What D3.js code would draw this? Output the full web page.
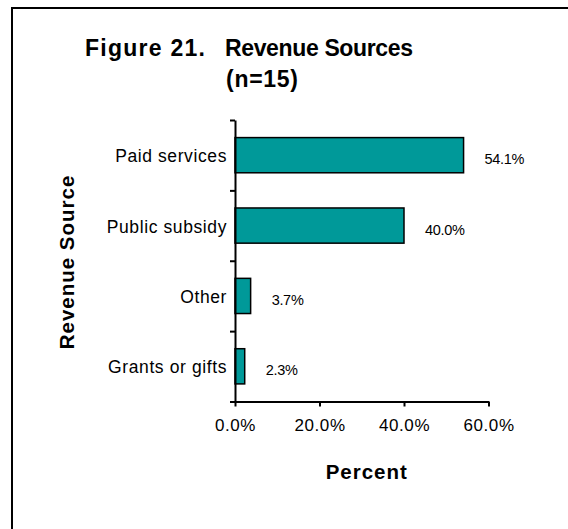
<!DOCTYPE html>
<html>
<head>
<meta charset="utf-8">
<script src="https://cdn.jsdelivr.net/npm/d3@7"></script>
<style>
  html, body { margin: 0; padding: 0; background: #fff; overflow: hidden; }
  svg { display: block; }
  text { font-family: "Liberation Sans", Arial, sans-serif; fill: #000; }
</style>
</head>
<body>
<svg id="chart" width="568" height="529"></svg>
<script>
// Revenue sources, share of total revenue (percent)
const categories = ["Paid services", "Public subsidy", "Other", "Grants or gifts"];
const values = [54.1, 40.0, 3.7, 2.3];
const xTicks = [0, 20, 40, 60];
const titleParts = ["Figure 21.", "Revenue Sources", "(n=15)"];
const xTitle = "Percent";
const yTitle = "Revenue Source";

const svg = d3.select("#chart");

// outer frame (only its top and left edges fall inside the page)
svg.append("rect")
  .attr("x", 12).attr("y", 8)
  .attr("width", 700).attr("height", 700)
  .attr("fill", "none").attr("stroke", "#000").attr("stroke-width", 2);

const plot = { left: 235, right: 488.5, top: 120, bottom: 401.5 };

const x = d3.scaleLinear().domain([0, 60]).range([plot.left, plot.right]);
const y = d3.scaleBand().domain(categories).range([plot.top, plot.bottom]).paddingInner(0.5).paddingOuter(0.25);
const yEdges = d3.scaleLinear().domain([0, categories.length]).range([plot.top, plot.bottom]);

// title: "Figure 21." then "Revenue Sources", with "(n=15)" under the second part
const title = svg.append("text")
  .attr("font-weight", "bold").attr("font-size", 23);
title.append("tspan").attr("x", 85).attr("y", 56)
  .attr("textLength", 120).attr("lengthAdjust", "spacing").text(titleParts[0]);
title.append("tspan").attr("x", 225).attr("y", 56)
  .attr("textLength", 188).attr("lengthAdjust", "spacing").text(titleParts[1]);
title.append("tspan").attr("x", 226).attr("y", 87)
  .attr("textLength", 72).attr("lengthAdjust", "spacing").text(titleParts[2]);

// bars
svg.append("g").selectAll("rect")
  .data(values)
  .join("rect")
  .attr("x", x(0))
  .attr("y", (d, i) => y(categories[i]))
  .attr("width", d => x(d) - x(0))
  .attr("height", y.bandwidth())
  .attr("fill", "#009999")
  .attr("stroke", "#000")
  .attr("stroke-width", 1.5);

// value labels
svg.append("g").selectAll("text")
  .data(values)
  .join("text")
  .attr("x", d => x(d) + 21)
  .attr("y", (d, i) => y(categories[i]) + y.bandwidth() / 2 + 9)
  .attr("font-size", 14.5)
  .attr("letter-spacing", -0.3)
  .text(d => d.toFixed(1) + "%");

// y axis: line with ticks on the category boundaries
const yAxis = svg.append("g")
  .attr("transform", `translate(${plot.left},0)`)
  .call(d3.axisLeft(yEdges).tickValues(d3.range(categories.length + 1)).tickFormat("").tickSize(5).tickSizeOuter(0));
yAxis.select(".domain").attr("stroke", "#000").attr("stroke-width", 2);
yAxis.selectAll(".tick line").attr("stroke", "#000").attr("stroke-width", 2);

// category labels
svg.append("g").selectAll("text")
  .data(categories)
  .join("text")
  .attr("x", plot.left - 8)
  .attr("y", d => y(d) + y.bandwidth() / 2 + 7)
  .attr("text-anchor", "end")
  .attr("font-size", 17.5)
  .attr("letter-spacing", 0.6)
  .text(d => d);

// x axis
const xAxis = svg.append("g")
  .attr("transform", `translate(0,${plot.bottom})`)
  .call(d3.axisBottom(x).tickValues(xTicks).tickFormat(d => d.toFixed(1) + "%").tickSize(5).tickSizeOuter(0).tickPadding(12));
xAxis.select(".domain").attr("stroke", "#000").attr("stroke-width", 2);
xAxis.selectAll(".tick line").attr("stroke", "#000").attr("stroke-width", 2);
xAxis.selectAll(".tick text")
  .attr("font-family", "Liberation Sans, Arial, sans-serif")
  .attr("font-size", 17)
  .attr("letter-spacing", 0.6)
  .attr("fill", "#000");

// axis titles
svg.append("text")
  .attr("x", (plot.left + plot.right) / 2 + 5)
  .attr("y", 479)
  .attr("text-anchor", "middle")
  .attr("font-weight", "bold").attr("font-size", 20.5)
  .attr("letter-spacing", 1)
  .text(xTitle);

svg.append("text")
  .attr("transform", "translate(74,262) rotate(-90)")
  .attr("text-anchor", "middle")
  .attr("font-weight", "bold").attr("font-size", 20.5)
  .attr("letter-spacing", 1)
  .text(yTitle);
</script>
</body>
</html>
